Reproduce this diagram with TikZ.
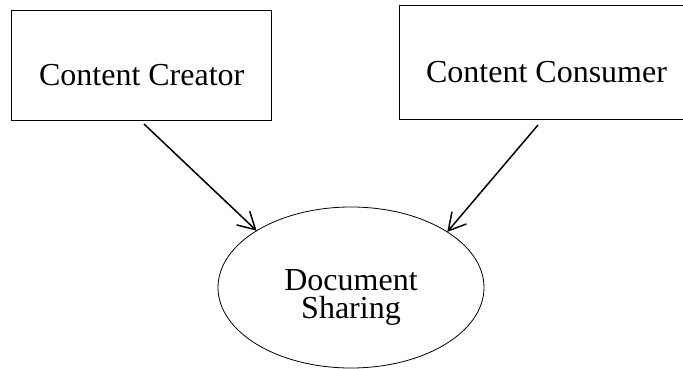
\documentclass[tikz,border=0pt]{standalone}
\usepackage{fontspec}
\setmainfont{Liberation Serif}
\usetikzlibrary{shapes.geometric,arrows.meta}
\tikzset{
  boxnode/.style={draw, line width=0.9pt, inner sep=0pt, outer sep=0pt,
    font=\fontsize{32}{28}\selectfont, text height=41pt, text depth=0pt},
  ellnode/.style={draw, ellipse, line width=0.8pt, inner sep=0pt, outer sep=0pt,
    minimum width=266pt, minimum height=161pt},
  elltext/.style={font=\fontsize{32}{28}\selectfont, align=center, inner sep=0pt},
  flow/.style={line width=1.5pt, -{Straight Barb[length=17pt,width=19pt,line width=1.5pt]}}
}
\begin{document}
\begin{tikzpicture}[x=1pt,y=-1pt]
\useasboundingbox (0,0) rectangle (683,369);
\node[boxnode, minimum width=260pt, minimum height=110pt] (crea) at (141.7,65) {Content Creator};
\node[boxnode, minimum width=293.6pt, minimum height=114pt] (cons) at (546.5,62) {Content Consumer};
\node[ellnode] (share) at (351,287.5) {};
\node[elltext, anchor=base] (sharetext) at (351,318) {Document\\Sharing};
\draw[flow] ([xshift=2.3pt,yshift=-4pt]crea.south) -- (share.149.4);
\draw[flow] ([xshift=-8.5pt,yshift=-6pt]cons.south) -- (share.30.3);
\end{tikzpicture}
\end{document}
